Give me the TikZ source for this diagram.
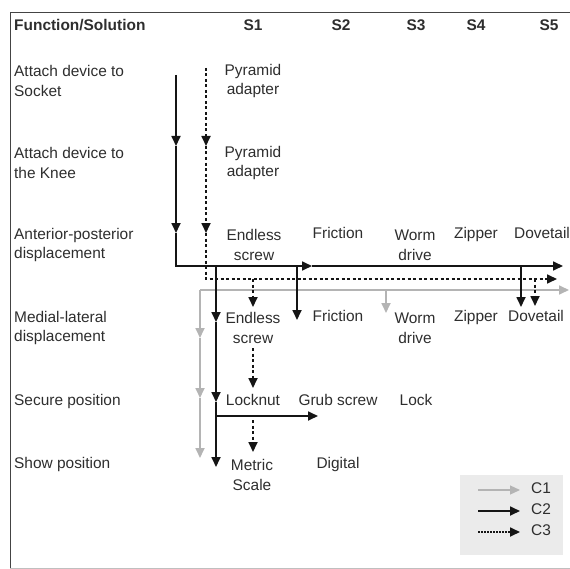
\documentclass[tikz,border=0pt]{standalone}
\usepackage{fontspec}
\setmainfont{Liberation Sans}
\usetikzlibrary{arrows.meta}
\definecolor{txt}{HTML}{2E2E2E}
\definecolor{cone}{HTML}{B4B4B4}
\definecolor{ctwo}{HTML}{151515}
\definecolor{legbg}{HTML}{EBEBEB}
\definecolor{frame}{HTML}{444444}
\begin{document}
\begin{tikzpicture}[x=1bp,y=-1bp,
  lbl/.style={text=txt, font=\fontsize{15.5}{20}\selectfont, inner sep=0pt, align=left, anchor=west},
  cell/.style={text=txt, font=\fontsize{15.5}{20}\selectfont, inner sep=0pt, align=center},
  one/.style={text height=10.5bp, text depth=3.5bp},
  hdr/.style={text=txt, font=\fontsize{15.5}{20}\selectfont\bfseries, inner sep=0pt, text height=10.5bp, text depth=3.5bp},
  tipstyle/.style={-{Triangle[length=10bp,width=9bp]}},
  ctwo/.style={draw=ctwo, line width=1.7bp, tipstyle},
  cthree/.style={draw=ctwo, line width=1.7bp, dash pattern=on 3bp off 2.5bp, tipstyle},
  cone/.style={draw=cone, line width=1.7bp, tipstyle}]
\useasboundingbox (0,0) rectangle (570,569);
% frame
\draw[frame, line width=0.9bp] (570,12) -- (10,12) -- (10,569);
\draw[black!25, line width=0.8bp] (10,568) -- (570,568);
% header
\node[hdr, anchor=west] (fs) at (14,27) {Function/Solution};
\node[hdr] (s1) at (253,27) {S1};
\node[hdr] (s2) at (341,27) {S2};
\node[hdr] (s3) at (416,27) {S3};
\node[hdr] (s4) at (476,27) {S4};
\node[hdr] (s5) at (549,27) {S5};
% function labels
\node[lbl] (f1) at (14,81) {Attach device to\\Socket};
\node[lbl] (f2) at (14,163) {Attach device to\\the Knee};
\node[lbl] (f3) at (14,245) {Anterior-posterior\\displacement};
\node[lbl] (f4) at (14,328) {Medial-lateral\\displacement};
\node[lbl, one] (f5) at (14,402) {Secure position};
\node[lbl, one] (f6) at (14,465) {Show position};
% cells
\node[cell] (pa1) at (253,81) {Pyramid\\adapter};
\node[cell] (pa2) at (253,163) {Pyramid\\adapter};
\node[cell] (es1) at (254,245) {Endless\\screw};
\node[cell, one] (fr1) at (338,235) {Friction};
\node[cell] (wd1) at (415,245) {Worm\\drive};
\node[cell, one] (zp1) at (476,235) {Zipper};
\node[cell, one] (dt1) at (542,235) {Dovetail};
\node[cell] (es2) at (253,328) {Endless\\screw};
\node[cell, one] (fr2) at (338,318) {Friction};
\node[cell] (wd2) at (415,328) {Worm\\drive};
\node[cell, one] (zp2) at (476,318) {Zipper};
\node[cell, one] (dt2) at (536,318) {Dovetail};
\node[cell, one] (ln) at (253,402) {Locknut};
\node[cell, one] (gs) at (338,402) {Grub screw};
\node[cell, one] (lk) at (416,402) {Lock};
\node[cell] (ms) at (252,475) {Metric\\Scale};
\node[cell, one] (dg) at (338,465) {Digital};
% C2 path coordinates
\coordinate (a0) at (176,75);
\coordinate (a1) at (176,146);
\coordinate (a2) at (176,233);
\coordinate (ac) at (176,266);
\coordinate (am) at (312,266);
\coordinate (ae) at (563,266);
\coordinate (b0) at (216,266);
\coordinate (b1) at (216,322);
\coordinate (b2) at (216,402);
\coordinate (b3) at (216,467);
\coordinate (b4) at (216,416);
\coordinate (b5) at (318,416);
\coordinate (c0) at (297,266);
\coordinate (c1) at (297,320);
\coordinate (d0) at (521,266);
\coordinate (d1) at (521,307);
% C3 path coordinates
\coordinate (e0) at (206,68);
\coordinate (e1) at (206,146);
\coordinate (e2) at (206,233);
\coordinate (ec) at (206,279);
\coordinate (ee) at (557,279);
\coordinate (g0) at (253,279);
\coordinate (g1) at (253,307);
\coordinate (h0) at (535,279);
\coordinate (h1) at (535,306);
\coordinate (i0) at (253,348);
\coordinate (i1) at (253,388);
\coordinate (k0) at (253,420);
\coordinate (k1) at (253,452);
% C1 path coordinates
\coordinate (j0) at (200,290);
\coordinate (j1) at (200,338);
\coordinate (j2) at (200,398);
\coordinate (j3) at (200,458);
\coordinate (je) at (569,290);
\coordinate (m0) at (386,290);
\coordinate (m1) at (386,313);
% C1 (gray)
\draw[cone] (j0) -- (j1);
\draw[cone] (j1) -- (j2);
\draw[cone] (j2) -- (j3);
\draw[cone] (j0) -- (je);
\draw[cone] (m0) -- (m1);
% C3 (dotted)
\draw[cthree] (e0) -- (e1);
\draw[cthree] (e1) -- (e2);
\draw[cthree] (e2) -- (ec) -- (ee);
\draw[cthree] (g0) -- (g1);
\draw[cthree] (h0) -- (h1);
\draw[cthree] (i0) -- (i1);
\draw[cthree] (k0) -- (k1);
% C2 (solid)
\draw[ctwo] (a0) -- (a1);
\draw[ctwo] (a1) -- (a2);
\draw[ctwo] (a2) -- (ac) -- (am);
\draw[ctwo] (am) -- (ae);
\draw[ctwo] (b0) -- (b1);
\draw[ctwo] (b1) -- (b2);
\draw[ctwo] (b2) -- (b3);
\draw[ctwo] (b4) -- (b5);
\draw[ctwo] (c0) -- (c1);
\draw[ctwo] (d0) -- (d1);
% legend
\node[fill=legbg, inner sep=0pt, minimum width=103bp, minimum height=80bp] (leg) at (511.5,515) {};
\coordinate (l1a) at (478,490);
\coordinate (l1b) at (520,490);
\coordinate (l2a) at (478,511);
\coordinate (l2b) at (520,511);
\coordinate (l3a) at (478,532);
\coordinate (l3b) at (520,532);
\draw[cone, line width=1.2bp] (l1a) -- (l1b);
\draw[ctwo] (l2a) -- (l2b);
\draw[cthree, dash pattern=on 1.5bp off 1.5bp] (l3a) -- (l3b);
\node[cell, one] (c1t) at (541,490) {C1};
\node[cell, one] (c2t) at (541,511) {C2};
\node[cell, one] (c3t) at (541,532) {C3};
\end{tikzpicture}
\end{document}
